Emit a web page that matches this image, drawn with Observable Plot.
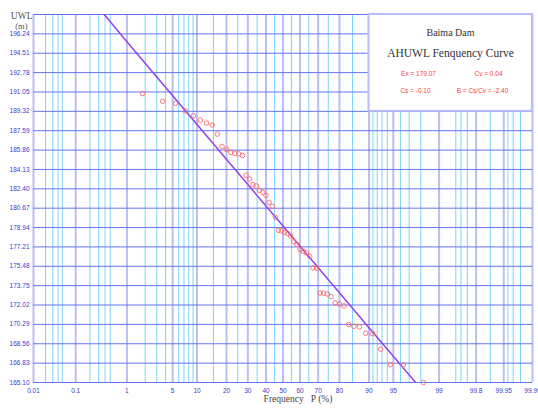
<!DOCTYPE html>
<html><head><meta charset="utf-8">
<script src="https://cdn.jsdelivr.net/npm/d3@7"></script>
<script src="https://cdn.jsdelivr.net/npm/@observablehq/plot@0.6"></script>
<style>body{margin:0;background:#fff} svg{display:block}</style>
</head><body><div id="chart"></div>
<script>
// Empirical frequency (%) of each observed annual highest upstream water level
const freq = [1.82, 3.64, 5.45, 7.27, 9.09, 10.91, 12.73, 14.55, 16.36, 18.18,
  20.00, 21.82, 23.64, 25.45, 27.27, 29.09, 30.91, 32.73, 34.55, 36.36,
  38.18, 40.00, 41.82, 43.64, 45.45, 47.27, 49.09, 50.91, 52.73, 54.55,
  56.36, 58.18, 60.00, 61.82, 63.64, 65.45, 67.27, 69.09, 70.91, 72.73,
  74.55, 76.36, 78.18, 80.00, 81.82, 83.64, 85.45, 87.27, 89.09, 90.91,
  92.73, 94.55, 96.36, 98.18];
// Observed levels (m)
const level = [190.91, 190.22, 190.04, 189.37, 188.92, 188.54, 188.27, 188.09, 187.29, 186.18,
  185.92, 185.65, 185.56, 185.52, 185.38, 183.61, 183.27, 182.77, 182.65, 182.26,
  182.08, 181.81, 181.19, 180.83, 179.85, 178.69, 178.64, 178.51, 178.42, 178.19,
  177.68, 177.44, 176.97, 176.82, 176.67, 176.37, 175.34, 175.32, 173.10, 173.07,
  173.01, 172.77, 172.21, 172.12, 171.94, 170.27, 170.12, 170.07, 169.50, 169.47,
  168.07, 166.71, 166.66, 165.10];
// Fitted frequency curve
const fitFreq = [0.386, 1, 10, 50, 90, 97.6];
const fitLevel = [197.97, 195.54, 188.14, 179.07, 170.00, 165.10];
// Axis ticks
const majorFreq = [0.01, 0.1, 1, 5, 10, 20, 30, 40, 50, 60, 70, 80, 90, 95, 99, 99.8, 99.95, 99.99];
const majorLabels = ["0.01","0.1","1","5","10","20","30","40","50","60","70","80","90","95","99","99.8","99.95","99.99"];
const minorFreq = [0.02, 0.03, 0.04, 0.05, 0.2, 0.3, 0.4, 0.5, 2, 3, 4, 6, 7, 8, 9,
  15, 25, 35, 45, 55, 65, 75, 85, 91, 92, 93, 94, 96, 97, 98,
  99.5, 99.6, 99.7, 99.9, 99.96, 99.97, 99.98];
const levelTicks = [165.10, 166.83, 168.56, 170.29, 172.02, 173.75, 175.48, 177.21, 178.94,
  180.67, 182.40, 184.13, 185.86, 187.59, 189.32, 191.05, 192.78, 194.51, 196.24];
const levelTop = 197.97;
const statBox = {freq1: 90, freq2: 99.99, level1: 189.32, level2: 197.97};
const title = "Baima Dam";
const subtitle = "AHUWL Fenquency Curve";
const stats = ["Ex = 179.07", "Cv = 0.04", "Cs = -0.10", "B = Cs/Cv = -2.40"];

// Inverse standard normal CDF (Acklam) for probability-paper axis
function probit(p) {
  const a = [-3.969683028665376e+01, 2.209460984245205e+02, -2.759285104469687e+02, 1.383577518672690e+02, -3.066479806614716e+01, 2.506628277459239e+00];
  const b = [-5.447609879822406e+01, 1.615858368580409e+02, -1.556989798598866e+02, 6.680131188771972e+01, -1.328068155288572e+01];
  const c = [-7.784894002430293e-03, -3.223964580411365e-01, -2.400758277161838e+00, -2.549732539343734e+00, 4.374664141464968e+00, 2.938163982698783e+00];
  const d = [7.784695709041462e-03, 3.224671290700398e-01, 2.445134137142996e+00, 3.754408661907416e+00];
  const pl = 0.02425, ph = 1 - pl;
  let q, r;
  if (p < pl) { q = Math.sqrt(-2 * Math.log(p));
    return (((((c[0]*q+c[1])*q+c[2])*q+c[3])*q+c[4])*q+c[5]) / ((((d[0]*q+d[1])*q+d[2])*q+d[3])*q+1); }
  if (p <= ph) { q = p - 0.5; r = q*q;
    return (((((a[0]*r+a[1])*r+a[2])*r+a[3])*r+a[4])*r+a[5])*q / (((((b[0]*r+b[1])*r+b[2])*r+b[3])*r+b[4])*r+1); }
  q = Math.sqrt(-2 * Math.log(1 - p));
  return -(((((c[0]*q+c[1])*q+c[2])*q+c[3])*q+c[4])*q+c[5]) / ((((d[0]*q+d[1])*q+d[2])*q+d[3])*q+1);
}
const Z = f => probit(f / 100);

const obs = freq.map((f, i) => ({z: Z(f), v: level[i]}));
const fit = fitFreq.map((f, i) => ({z: Z(f), v: fitLevel[i]}));
const majorZ = majorFreq.map(Z);
const minorZ = minorFreq.map(Z);
const labelMap = new Map(majorZ.map((z, i) => [z, majorLabels[i]]));

const serif = "'Liberation Serif', 'DejaVu Serif', serif";
const red = "#ff3b3b";

const chart = Plot.plot({
  width: 538, height: 408,
  marginLeft: 33, marginRight: 6, marginTop: 14, marginBottom: 26,
  style: {background: "white", fontFamily: "'Liberation Sans', Arial, sans-serif", fontSize: "6.5px", color: "#3a3ad0", overflow: "visible"},
  x: {type: "linear", domain: [Z(0.01), Z(99.99)], ticks: majorZ, tickFormat: d => labelMap.get(d) ?? "", tickSize: 0, tickPadding: 6, label: null},
  y: {domain: [levelTicks[0], levelTop], ticks: levelTicks, tickFormat: d => d.toFixed(2), tickSize: 0, tickPadding: 4, label: null},
  marks: [
    Plot.ruleX(minorZ, {stroke: "#7fd4fb", strokeWidth: 1}),
    Plot.ruleX(majorZ, {stroke: "#b9bef4", strokeWidth: 2}),
    Plot.ruleY(levelTicks.concat([levelTop]), {stroke: "#6475ee", strokeWidth: 1}),
    Plot.line(fit, {x: "z", y: "v", stroke: "#9440ea", strokeWidth: 1.5, clip: true}),
    Plot.dot(obs, {x: "z", y: "v", r: 2.3, stroke: "#ff6a6a", strokeWidth: 0.9, fill: "none"}),
    Plot.rect([statBox], {x1: d => Z(d.freq1), x2: d => Z(d.freq2), y1: "level1", y2: "level2", fill: "white", stroke: "#b9bef4", strokeWidth: 2}),
    Plot.text([title], {text: d => d, frameAnchor: "top-right", textAnchor: "middle", dx: -82, dy: 14, fontFamily: serif, fontSize: 10, fill: "#333"}),
    Plot.text([subtitle], {text: d => d, frameAnchor: "top-right", textAnchor: "middle", dx: -82, dy: 34, fontFamily: serif, fontSize: 11.5, fill: "#333"}),
    Plot.text([stats[0]], {text: d => d, frameAnchor: "top-right", textAnchor: "middle", dx: -114, dy: 57, fill: red, fontSize: 6.5}),
    Plot.text([stats[1]], {text: d => d, frameAnchor: "top-right", textAnchor: "middle", dx: -44, dy: 57, fill: red, fontSize: 6.5}),
    Plot.text([stats[2]], {text: d => d, frameAnchor: "top-right", textAnchor: "middle", dx: -117, dy: 74, fill: red, fontSize: 6.5}),
    Plot.text([stats[3]], {text: d => d, frameAnchor: "top-right", textAnchor: "middle", dx: -50, dy: 74, fill: red, fontSize: 6.5}),
    Plot.text(["UWL"], {text: d => d, frameAnchor: "top-left", textAnchor: "end", dx: -1, dy: -2, fontFamily: serif, fontSize: 9.5, fill: "#555"}),
    Plot.text(["(m)"], {text: d => d, frameAnchor: "top-left", textAnchor: "end", dx: -6, dy: 8, fontFamily: serif, fontSize: 8.5, fill: "#555"}),
    Plot.text(["Frequency   P (%)"], {text: d => d, frameAnchor: "bottom", textAnchor: "middle", dx: 15, dy: 19, fontFamily: serif, fontSize: 9.5, fill: "#444"})
  ]
});
document.getElementById("chart").append(chart);
</script>
</body></html>
